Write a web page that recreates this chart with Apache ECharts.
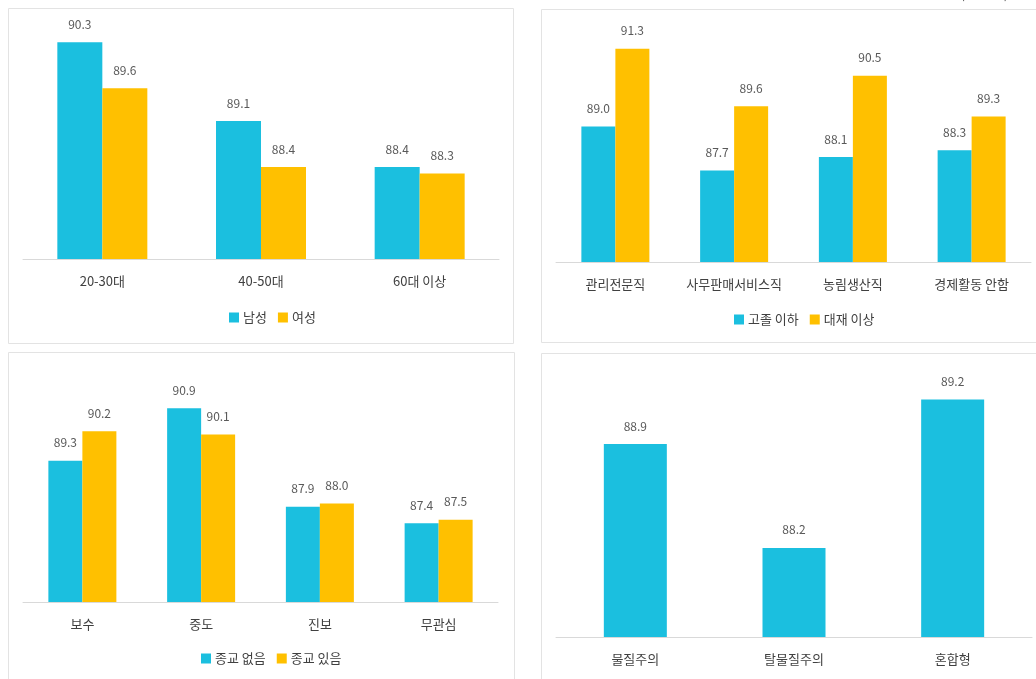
<!DOCTYPE html>
<html>
<head>
<meta charset="utf-8">
<script src="https://cdn.jsdelivr.net/npm/echarts@6/dist/echarts.min.js"></script>
<style>
  html, body { margin: 0; padding: 0; background: #fff; }
  #chart { width: 1036px; height: 679px; }
</style>
</head>
<body>
<div id="chart"></div>
<script>
// 연령대별
const ageCategories = ['20-30대', '40-50대', '60대 이상'];
const ageMale = [90.3, 89.1, 88.4];
const ageFemale = [89.6, 88.4, 88.3];

// 직업별
const jobCategories = ['관리전문직', '사무판매서비스직', '농림생산직', '경제활동 안함'];
const jobHighSchool = [89.0, 87.7, 88.1, 88.3];
const jobCollege = [91.3, 89.6, 90.5, 89.3];

// 정치성향별
const politicsCategories = ['보수', '중도', '진보', '무관심'];
const politicsNoReligion = [89.3, 90.9, 87.9, 87.4];
const politicsReligion = [90.2, 90.1, 88.0, 87.5];

// 가치관 유형별
const valueCategories = ['물질주의', '탈물질주의', '혼합형'];
const valueScores = [88.9, 88.2, 89.2];

const BLUE = '#1bbfdf';
const GOLD = '#ffc000';
const FONT = '"Noto Sans CJK KR", "Noto Sans", sans-serif';

const chart = echarts.init(document.getElementById('chart'), null, { renderer: 'canvas' });

function xAxisFor(gridIndex, data) {
  return {
    type: 'category', gridIndex, data,
    axisLine: { lineStyle: { color: '#d9d9d9', width: 1 } },
    axisTick: { show: false },
    axisLabel: { color: '#404040', fontSize: 13, margin: 16, fontFamily: FONT, interval: 0 }
  };
}
function yAxisFor(gridIndex, min, max) {
  return {
    type: 'value', gridIndex, min, max,
    show: false, splitLine: { show: false }
  };
}
const valueLabel = {
  show: true, position: 'top', distance: 12,
  color: '#595959', fontSize: 12, fontFamily: FONT,
  formatter: p => p.value.toFixed(1)
};
function barSeries(name, data, color, axisIndex, width) {
  return {
    type: 'bar', name, data,
    xAxisIndex: axisIndex, yAxisIndex: axisIndex,
    barWidth: width, barGap: '0%',
    itemStyle: { color },
    label: valueLabel
  };
}
function legendFor(names, left, top) {
  return {
    data: names, left, top,
    itemWidth: 10, itemHeight: 10, itemGap: 11,
    icon: 'rect',
    textStyle: { color: '#404040', fontSize: 13, fontFamily: FONT, padding: [0, 0, 0, -1] }
  };
}
function panel(x, y, w, h) {
  return {
    type: 'rect',
    shape: { x: x + 0.5, y: y + 0.5, width: w, height: h },
    style: { fill: 'none', stroke: '#e3e3e3', lineWidth: 1 },
    silent: true
  };
}

chart.setOption({
  animation: false,
  backgroundColor: '#ffffff',
  textStyle: { fontFamily: FONT },
  graphic: [
    panel(8, 8, 505, 335),
    panel(541, 9, 520, 333),
    panel(8, 352, 506, 340),
    panel(541, 353, 520, 340),
    {
      type: 'text', right: 28, top: -12,
      style: { text: '(단위: 점)', fill: '#404040', fontSize: 12, fontFamily: FONT }
    }
  ],
  grid: [
    { left: 23, top: 29, width: 476, height: 230 },
    { left: 556, top: 25, width: 475, height: 237 },
    { left: 23, top: 372, width: 475, height: 230 },
    { left: 556, top: 340, width: 476, height: 297 }
  ],
  xAxis: [
    xAxisFor(0, ageCategories),
    xAxisFor(1, jobCategories),
    xAxisFor(2, politicsCategories),
    xAxisFor(3, valueCategories)
  ],
  yAxis: [
    yAxisFor(0, 87, 90.5),
    yAxisFor(1, 85, 92),
    yAxisFor(2, 85, 92),
    yAxisFor(3, 87.6, 89.6)
  ],
  legend: [
    legendFor(['남성', '여성'], 224, 306),
    legendFor(['고졸 이하', '대재 이상'], 729, 308),
    legendFor(['종교 없음', '종교 있음'], 196, 647)
  ],
  series: [
    barSeries('남성', ageMale, BLUE, 0, 45),
    barSeries('여성', ageFemale, GOLD, 0, 45),
    barSeries('고졸 이하', jobHighSchool, BLUE, 1, 34),
    barSeries('대재 이상', jobCollege, GOLD, 1, 34),
    barSeries('종교 없음', politicsNoReligion, BLUE, 2, 34),
    barSeries('종교 있음', politicsReligion, GOLD, 2, 34),
    barSeries('가치관 유형', valueScores, BLUE, 3, 63)
  ]
});
</script>
</body>
</html>
